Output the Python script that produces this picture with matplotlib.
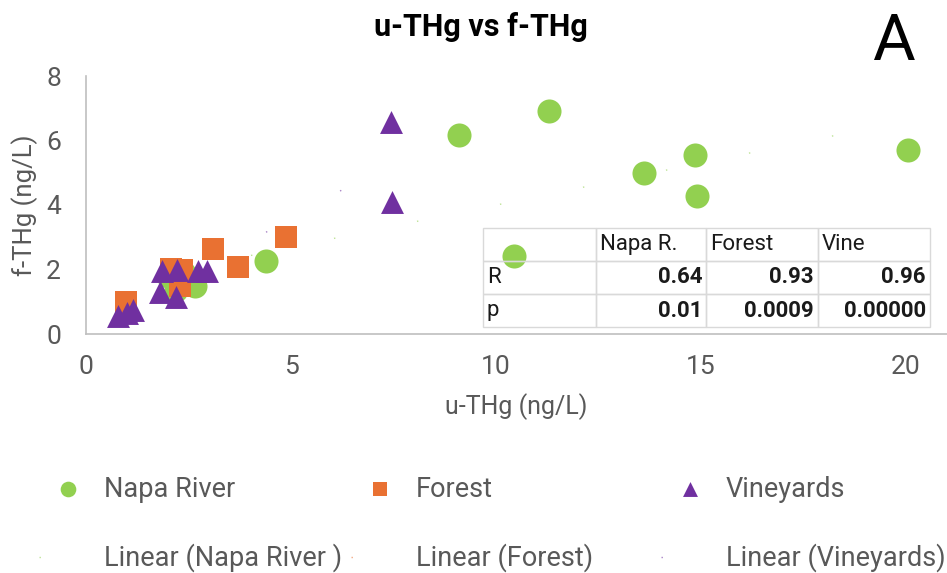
import numpy as np
import matplotlib
matplotlib.use('Agg')
import matplotlib.pyplot as plt
from matplotlib.table import Table

plt.rcParams['font.family'] = ['Roboto', 'DejaVu Sans']

# data (u-THg, f-THg in ng/L)
napa_x = [2.0, 2.2, 2.4, 2.65, 4.4, 9.1, 10.45, 11.3, 13.6, 14.85, 14.9, 20.05]
napa_y = [1.8, 1.35, 1.9, 1.5, 2.26, 6.16, 2.41, 6.93, 4.98, 5.54, 4.27, 5.7]
forest_x = [0.98, 2.07, 2.35, 2.3, 3.1, 3.7, 4.88]
forest_y = [0.98, 2.01, 1.98, 1.5, 2.63, 2.07, 3.0]
vine_x = [0.78, 1.0, 1.15, 1.85, 2.22, 2.73, 2.95, 1.8, 2.2, 7.44, 7.46]
vine_y = [0.56, 0.65, 0.74, 1.95, 1.98, 1.95, 1.95, 1.3, 1.15, 6.56, 4.09]

series_names = ['Napa River', 'Forest', 'Vineyards']
trend_names = ['Linear (Napa River )', 'Linear (Forest)', 'Linear (Vineyards)']

# stats table
tbl_cols = ['Napa R.', 'Forest', 'Vine']
tbl_rows = ['R', 'p']
tbl_vals = [['0.64', '0.93', '0.96'],
            ['0.01', '0.0009', '0.00000']]

colors = ['#92D050', '#E97132', '#7030A0']
markers = ['o', 's', '^']
sizes = [300, 272, 272]
grey = '#595959'

fig = plt.figure(figsize=(9.47, 5.73), dpi=100)
ax = fig.add_axes([86 / 947, 239 / 573, 861 / 947, 258 / 573])

scat = []
lines = []
for xs, ys, c, m, s, name, tname in zip([napa_x, forest_x, vine_x], [napa_y, forest_y, vine_y],
                                         colors, markers, sizes, series_names, trend_names):
    sc = ax.scatter(xs, ys, s=s, c=c, marker=m, linewidths=0, zorder=3, label=name)
    scat.append(sc)
    # linear trendline, dotted so thin it barely shows (like the original)
    k, b = np.polyfit(xs, ys, 1)
    xx = np.array([min(xs), max(xs)])
    ln, = ax.plot(xx, k * xx + b, color=c, lw=1, ls=(0, (1, 60)), alpha=0.6, zorder=2, label=tname)
    lines.append(ln)

ax.set_xlim(0, 21)
ax.set_ylim(0, 8)
ax.set_xticks([0, 5, 10, 15, 20])
ax.set_yticks([0, 2, 4, 6, 8])
for side in ['top', 'right']:
    ax.spines[side].set_visible(False)
for side in ['left', 'bottom']:
    ax.spines[side].set_color('#BFBFBF')
    ax.spines[side].set_linewidth(1.2)
ax.tick_params(length=0, labelsize=19, colors=grey)
ax.tick_params(axis='y', pad=18)
ax.tick_params(axis='x', pad=15)

ax.set_xlabel('u-THg (ng/L)', fontsize=18, color=grey)
ax.xaxis.set_label_coords(0.5, -0.28)
ax.xaxis.label.set_va('center')
ax.set_ylabel('f-THg (ng/L)', fontsize=18.5, color=grey)
ax.yaxis.set_label_coords(-0.071, 0.5)
ax.yaxis.label.set_va('center')

# table drawn over the plot area
tb = Table(ax, bbox=[0.461, 0.027, 0.519, 0.384])
widths = [113, 110, 112, 112]
for r in range(3):
    for c in range(4):
        if r == 0:
            txt = '' if c == 0 else tbl_cols[c - 1]
            loc = 'left'
        elif c == 0:
            txt = tbl_rows[r - 1]
            loc = 'left'
        else:
            txt = tbl_vals[r - 1][c - 1]
            loc = 'right'
        cell = tb.add_cell(r, c, widths[c], 33, text=txt, loc=loc,
                           edgecolor='#D9D9D9', facecolor='none')
        cell.PAD = 0.035
        cell.get_text().set_color('#1a1a1a')
        if r > 0 and c > 0:
            cell.get_text().set_fontweight('bold')
tb.auto_set_font_size(False)
tb.set_fontsize(16)
tb.set_zorder(5)
ax.add_table(tb)

fig.text(481 / 947, 1 - 27 / 573, 'u-THg vs f-THg', ha='center', va='center', fontsize=22,
         fontweight='bold', family=['Roboto', 'DejaVu Sans'])
fig.text(893 / 947, 1 - 42 / 573, 'A', ha='center', va='center', fontsize=47,
         family=['Roboto', 'DejaVu Sans'])

# legend: three columns of two rows, each placed on its own
for i, x0 in enumerate([39, 351, 661]):
    leg = fig.legend([scat[i], lines[i]], [series_names[i], trend_names[i]],
                     loc='center left', bbox_to_anchor=(x0 / 947, 1 - 524 / 573),
                     frameon=False, fontsize=19.5, handlelength=2.14, handletextpad=0.26,
                     labelspacing=1.52, borderpad=0, borderaxespad=0, markerscale=0.65,
                     labelcolor=grey)

fig.savefig('out.png', dpi=100)
